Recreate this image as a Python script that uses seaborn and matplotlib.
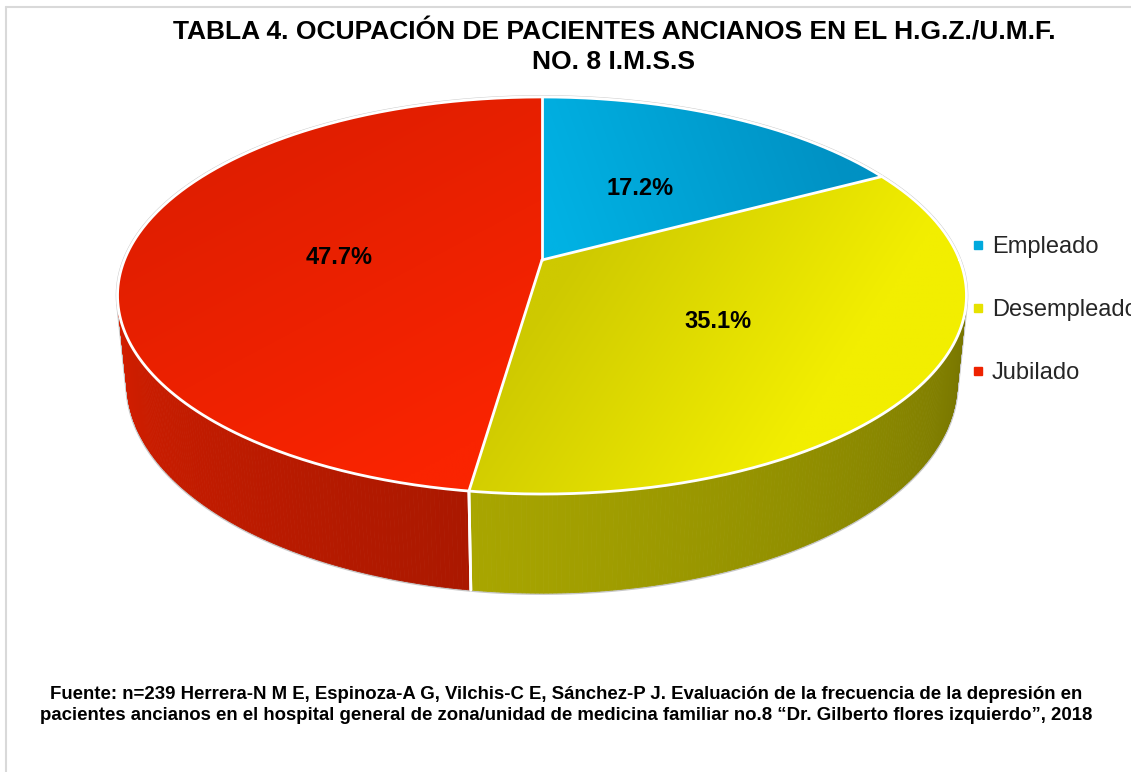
import numpy as np
import matplotlib
matplotlib.use("Agg")
import matplotlib.pyplot as plt
from matplotlib.patches import Polygon
from matplotlib.lines import Line2D
import seaborn as sns

# ---------------- data ----------------
categories = ["Empleado", "Desempleado", "Jubilado"]
percentages = [17.2, 35.1, 47.7]
label_texts = ["17.2%", "35.1%", "47.7%"]
legend_colors = ["#00a9dd", "#e6e200", "#ee2200"]
wall_base = [(0, 170, 220), (238, 234, 0), (240, 34, 0)]
# top-face gradient (dark/light) per slice and gradient anchor points (px)
grad_c1 = [(0, 178, 228), (206, 201, 0), (224, 30, 0)]
grad_c2 = [(0, 145, 195), (242, 238, 0), (250, 36, 0)]
grad_p1 = [(560, 250), (560, 275), (250, 150)]
grad_p2 = [(840, 150), (800, 430), (420, 470)]

title = "TABLA 4. OCUPACIÓN DE PACIENTES ANCIANOS EN EL H.G.Z./U.M.F.\nNO. 8 I.M.S.S"
footer = ("Fuente: n=239 Herrera-N M E, Espinoza-A G, Vilchis-C E, Sánchez-P J. "
          "Evaluación de la frecuencia de la depresión en\n"
          "pacientes ancianos en el hospital general de zona/unidad de medicina "
          "familiar no.8 “Dr. Gilberto flores izquierdo”, 2018")

# ---------------- style ----------------
sns.set_theme(style="white")
plt.rcParams["font.family"] = ["Liberation Sans", "DejaVu Sans"]

W, H = 1131, 772
fig = plt.figure(figsize=(W / 100, H / 100), dpi=100)
fig.patch.set_facecolor("white")
ax = fig.add_axes([0, 0, 1, 1])
ax.set_xlim(0, W)
ax.set_ylim(H, 0)
ax.axis("off")

# ---------------- 3D projection ----------------
PHI = np.radians(27.4)
DIST = 4.966
FOC = 2074.0
CX, CY = 542.0, 260.0
THICK = 0.2394


def project(x, y, z):
    depth = DIST + y * np.cos(PHI) - z * np.sin(PHI)
    up = y * np.sin(PHI) + z * np.cos(PHI)
    return CX + FOC * x / depth, CY - FOC * up / depth


def rim(theta_deg, z=0.0, r=1.0):
    t = np.radians(theta_deg)
    return project(r * np.cos(t), r * np.sin(t), z)


# slice angles: start at 90 deg, clockwise
fractions = np.array(percentages) / sum(percentages)
starts = 90 - 360 * np.concatenate([[0], np.cumsum(fractions)[:-1]])
ends = starts - 360 * fractions


def shade(theta):
    a = theta % 360
    if a < 180:
        a = 180 if a > 90 else 360
    return 0.88 - (a - 193) * 0.00247


# ---------------- walls ----------------
quads = []
for i in range(len(categories)):
    angs = np.linspace(starts[i], ends[i], int(abs(starts[i] - ends[i]) * 2) + 2)
    for a0, a1 in zip(angs[:-1], angs[1:]):
        mid = 0.5 * (a0 + a1)
        xt0, yt0 = rim(a0)
        xt1, yt1 = rim(a1)
        xb1, yb1 = rim(a1, -THICK)
        xb0, yb0 = rim(a0, -THICK)
        f = max(0.45, min(0.92, shade(mid)))
        col = tuple(min(1, c * f / 255) for c in wall_base[i])
        quads.append((np.sin(np.radians(mid)), [xt0, xt1, xb1, xb0], [yt0, yt1, yb1, yb0], col))
quads.sort(key=lambda q: -q[0])
for _, xs, ys, col in quads:
    ax.fill(xs, ys, facecolor=col, edgecolor=col, linewidth=0.6, zorder=1)

# faint gray silhouette
th = np.linspace(-13, 193, 300)
bx, by = rim(th)
ax.plot(bx, by, color="#c8c8c8", lw=2.6, zorder=0.5)
th = np.linspace(193, 347, 300)
bx, by = rim(th, -THICK)
ax.plot(bx, by, color="#c8c8c8", lw=2.6, zorder=0.5)
for a in (193, 347):
    x0, y0 = rim(a)
    x1, y1 = rim(a, -THICK)
    ax.plot([x0, x1], [y0, y1], color="#c8c8c8", lw=2.6, zorder=0.5)

# visible wall seams
for a in list(starts) + list(ends):
    if np.sin(np.radians(a)) < -1 / (DIST * np.cos(PHI)):
        x0, y0 = rim(a)
        x1, y1 = rim(a, -THICK)
        ax.plot([x0, x1], [y0, y1], color="white", lw=2, zorder=1.5)

# ---------------- top faces ----------------
for i in range(len(categories)):
    angs = np.linspace(starts[i], ends[i], 200)
    rx, ry = rim(angs)
    px = np.concatenate([[CX], rx])
    py = np.concatenate([[CY], ry])
    patch = Polygon(np.column_stack([px, py]), closed=True, facecolor="none",
                    edgecolor="none", transform=ax.transData)
    ax.add_patch(patch)
    x0, x1 = px.min() - 2, px.max() + 2
    y0, y1 = py.min() - 2, py.max() + 2
    gx = np.linspace(x0, x1, 200)
    gy = np.linspace(y0, y1, 200)
    GX, GY = np.meshgrid(gx, gy)
    p1 = np.array(grad_p1[i], float)
    p2 = np.array(grad_p2[i], float)
    d = p2 - p1
    s = ((GX - p1[0]) * d[0] + (GY - p1[1]) * d[1]) / (d @ d)
    s = np.clip(s, 0, 1)[..., None]
    c1 = np.array(grad_c1[i]) / 255
    c2 = np.array(grad_c2[i]) / 255
    img = c1 * (1 - s) + c2 * s
    im = ax.imshow(img, extent=(x0, x1, y1, y0), origin="upper",
                   aspect="auto", interpolation="bilinear", zorder=2)
    im.set_clip_path(patch)

# white top rim and separators
th = np.linspace(0, 360, 600)
rx, ry = rim(th)
ax.plot(rx, ry, color="white", lw=2, zorder=3)
for a in starts:
    x1, y1 = rim(a)
    ax.plot([CX, x1], [CY, y1], color="white", lw=2, zorder=3)

# data labels
for i in range(len(categories)):
    mid = 0.5 * (starts[i] + ends[i])
    lx, ly = rim(mid, 0.0, 0.49)
    ax.annotate(label_texts[i], (lx, ly), xytext=(0, -4), textcoords="offset pixels",
                ha="center", va="center", fontsize=17, fontweight="bold",
                color="black", zorder=4)

ax.set_xlim(0, W)
ax.set_ylim(H, 0)

# ---------------- legend ----------------
handles = [Line2D([0], [0], marker="s", linestyle="none", markersize=6,
                  markerfacecolor=c, markeredgecolor=c) for c in legend_colors]
ax.legend(handles, categories, loc="center left", bbox_to_anchor=(972, 310),
          bbox_transform=ax.transData, frameon=False, fontsize=17,
          labelspacing=1.73, handlelength=0.5, handletextpad=0.35,
          borderaxespad=0, borderpad=0)

# ---------------- texts ----------------
ax.text(614, 47, title, ha="center", va="center", fontsize=19,
        fontweight="bold", color="black", linespacing=1.3)
ax.text(566, 705, footer, ha="center", va="center", fontsize=13.4,
        fontweight="bold", color="black", linespacing=1.28)

# frame border lines
ax.plot([6, 6], [7, H], color="#d9d9d9", lw=1.5, zorder=0)
ax.plot([6, W], [7, 7], color="#d9d9d9", lw=1.5, zorder=0)

fig.savefig("out.png", dpi=100, facecolor="white")
